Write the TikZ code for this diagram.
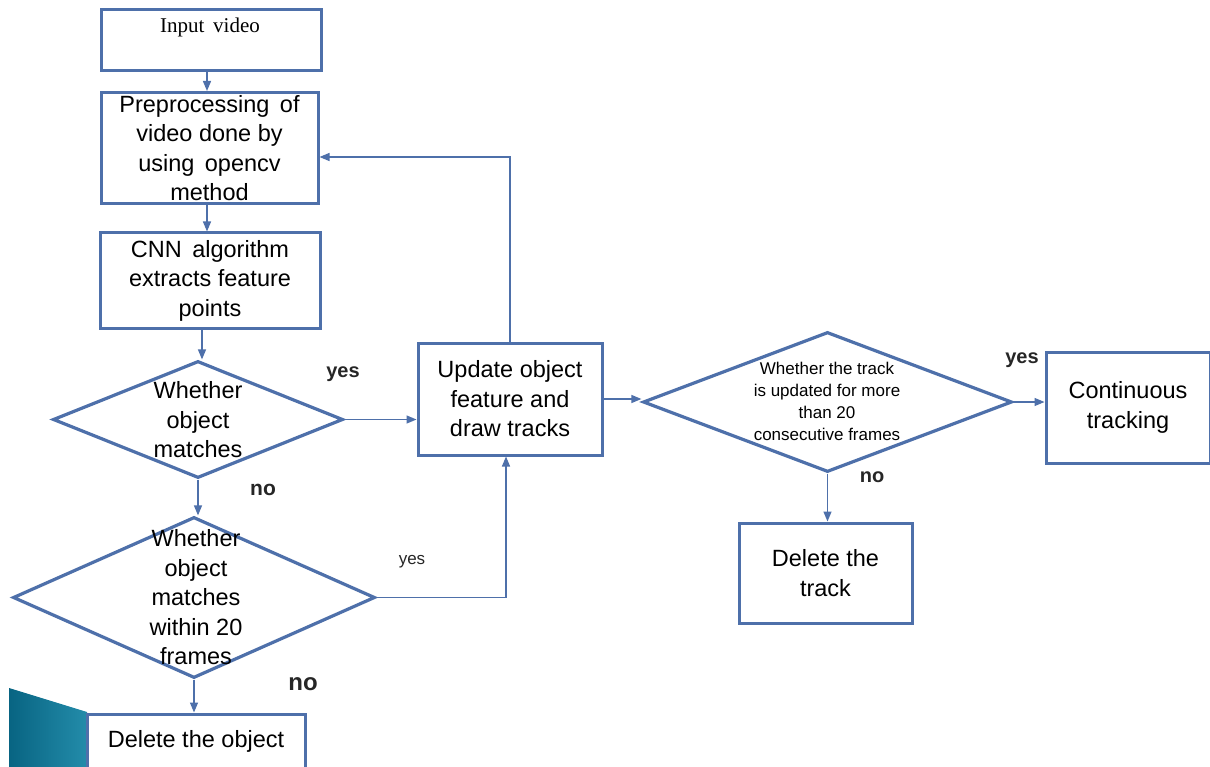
\documentclass[tikz,border=0pt]{standalone}
\usepackage{fontspec}
\setmainfont{Liberation Serif}
\newfontfamily\arialf{Liberation Sans}
\usetikzlibrary{shapes.geometric,arrows.meta}
\definecolor{bblue}{RGB}{78,112,170}
\definecolor{tealA}{RGB}{8,100,130}
\definecolor{tealB}{RGB}{35,140,170}
\tikzset{
  boxn/.style={draw=bblue, line width=3pt, fill=white, inner sep=0pt, align=center,
    font=\arialf\fontsize{23.5}{29.5}\selectfont},
  diam/.style={diamond, draw=bblue, line width=3.2pt, fill=white, inner sep=0pt},
  dtext/.style={align=center, inner sep=0pt, font=\arialf\fontsize{23.5}{29.5}\selectfont},
  conn/.style={draw=bblue, line width=1.3pt, -{Triangle[length=10pt,width=8pt]}},
  lbl/.style={inner sep=0pt, font=\arialf\bfseries\fontsize{20}{24}\selectfont, text=black!85},
}
\begin{document}
\begin{tikzpicture}[x=1pt,y=-1pt]
\useasboundingbox[fill=white] (0,0) rectangle (1210,767);
% decorative teal shape
\shade[left color=tealA, right color=tealB] (9,688) -- (87,712) -- (87,767) -- (9,767) -- cycle;

% boxes
\node[boxn, minimum width=220pt, minimum height=61pt] (inp) at (211,40.5) {};
\node[font=\fontsize{21}{24}\selectfont, inner sep=0pt] (inpt) at (210,27) {Input\, video};
\node[boxn, minimum width=217pt, minimum height=111pt] (pre) at (209.5,148) {Preprocessing\, of\\video done by\\using\, opencv\\method};
\node[boxn, minimum width=220pt, minimum height=95pt] (cnn) at (210,280.5) {CNN\, algorithm\\extracts feature\\points};
\node[diam, minimum width=290pt, minimum height=117pt] (d1) at (198,419.5) {};
\node[dtext] (d1t) at (198,420) {Whether\\object\\matches};
\node[diam, minimum width=362pt, minimum height=161pt] (d2) at (194,597.5) {};
\node[dtext] (d2t) at (196,597.5) {Whether\\object\\matches\\within 20\\frames};
\node[boxn, minimum width=218pt, minimum height=54pt] (del) at (196,741) {Delete the object};
\node[boxn, minimum width=184pt, minimum height=112pt] (upd) at (510,399) {Update object\\feature and\\draw tracks};
\node[diam, minimum width=369pt, minimum height=140pt] (d3) at (827.5,402) {};
\node[dtext, font=\arialf\fontsize{17}{22}\selectfont] (d3t) at (827,401.5) {Whether the track\\is updated for more\\than 20\\consecutive frames};
\node[boxn, minimum width=164pt, minimum height=111pt] (cont) at (1128,407.5) {Continuous\\tracking};
\node[boxn, minimum width=173pt, minimum height=100pt] (delt) at (825.5,573) {Delete the\\track};

% connectors
\draw[conn] ([xshift=-4pt]inp.south) -- ([xshift=-2.5pt]pre.north);
\draw[conn] ([xshift=-2.5pt]pre.south) -- ([xshift=-3pt]cnn.north);
\draw[conn] ([xshift=-8pt]cnn.south) -- ([xshift=4pt]d1.north);
\draw[conn] (d1.east) -- (d1.east -| upd.west);
\draw[conn] (d1.south) -- (d1.south |- d2.north);
\draw[conn] (d2.south) -- (d2.south |- del.north);
\draw[conn] (d2.east) -| ([xshift=-4pt]upd.south);
\draw[conn] (upd.north) |- ([yshift=-9pt]pre.east);
\draw[conn] (upd.east) -- (upd.east -| d3.west);
\draw[conn] (d3.east) -- (d3.east -| cont.west);
\draw[conn] (d3.south) -- (d3.south |- delt.north);

% labels
\node[lbl] (y1) at (343,374) {yes};
\node[lbl, font=\arialf\bfseries\fontsize{21}{24}\selectfont] (n1) at (263,490) {no};
\node[lbl, font=\arialf\fontsize{17}{20}\selectfont] (y2) at (412,562) {yes};
\node[lbl, font=\arialf\bfseries\fontsize{24}{28}\selectfont] (n2) at (303,684) {no};
\node[lbl] (y3) at (1022,360) {yes};
\node[lbl] (n3) at (872,477) {no};
\end{tikzpicture}
\end{document}
